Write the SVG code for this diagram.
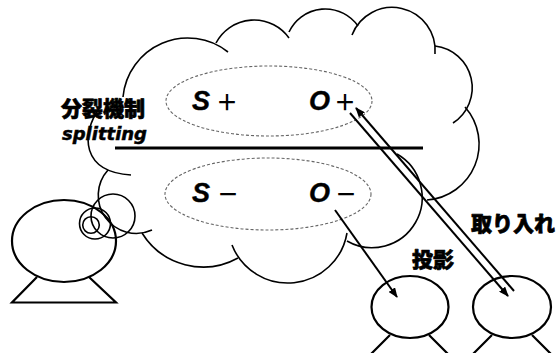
<svg xmlns="http://www.w3.org/2000/svg" width="559" height="353" viewBox="0 0 559 353">
  <style>
    .ln{fill:none;stroke:#000;stroke-width:1.6}
    .fig{fill:none;stroke:#000;stroke-width:2.2}
    .dash{fill:none;stroke:#666;stroke-width:1.1;stroke-dasharray:3 2}
    .jp{font-family:"Noto Sans CJK JP",sans-serif;font-weight:900;fill:#000;stroke:#000;stroke-width:0.7;stroke-linejoin:round}
    .var{font-family:"Liberation Sans",Arial,sans-serif;font-style:italic;font-weight:bold;font-size:27px;stroke:#000;stroke-width:0.4}
    .sym{font-family:"Noto Sans CJK JP",sans-serif;font-weight:bold;font-size:22px}
    .arrow{fill:none;stroke:#000;stroke-width:2}
  </style>
  <defs>
    <marker id="ah" markerUnits="userSpaceOnUse" markerWidth="10" markerHeight="8" refX="9" refY="4" orient="auto">
      <path d="M0,0 L10,4 L0,8 z" fill="#000"/>
    </marker>
  </defs>
  <rect width="559" height="353" fill="#fff"/>

  <!-- thought cloud made of overlapping arcs -->
  <g id="cloud" class="ln">
    <path d="M123,97 A65,65 0 0,1 228,52"/>
    <path d="M216,43 A43,43 0 0,1 289,38"/>
    <path d="M289,32 A40,40 0 0,1 358,26"/>
    <path d="M352,35 A43,43 0 0,1 435,54"/>
    <path d="M435,46 A42,42 0 0,1 453,123"/>
    <path d="M465,107 A56,56 0 0,1 427,200"/>
    <path d="M397,154 A50,50 0 1,1 347,241"/>
    <path d="M347,233 A60,60 0 0,1 232,245"/>
    <path d="M238,258 A72,72 0 0,1 142,233"/>
    <path d="M108,170 A38,38 0 0,0 152,230"/>
    <path d="M100,107 C80,135 82,172 131,175"/>
  </g>

  <!-- bubbles leading from the head to the cloud -->
  <g id="bubbles" class="ln">
    <circle cx="113" cy="216" r="22"/>
    <circle cx="95" cy="223.5" r="15.5"/>
    <circle cx="91" cy="225" r="8.3"/>
  </g>

  <!-- thinking figure -->
  <g id="thinker" class="fig">
    <ellipse cx="64" cy="241" rx="52" ry="41"/>
    <path d="M37,277 L12,302.5 L116,302.5 L89,277"/>
  </g>

  <!-- splitting line and groups -->
  <g id="divider">
    <line x1="115" y1="148" x2="423" y2="148" stroke="#000" stroke-width="3.2"/>
  </g>
  <g id="good-pair">
    <ellipse class="dash" cx="269" cy="101" rx="103" ry="35"/>
    <text y="110"><tspan class="var" x="192">S</tspan><tspan class="sym" x="216">＋</tspan></text>
    <text y="110"><tspan class="var" x="309">O</tspan><tspan class="sym" x="334">＋</tspan></text>
  </g>
  <g id="bad-pair">
    <ellipse class="dash" cx="268" cy="194" rx="103" ry="36"/>
    <text y="202"><tspan class="var" x="192">S</tspan><tspan class="sym" x="217">－</tspan></text>
    <text y="202"><tspan class="var" x="309">O</tspan><tspan class="sym" x="335">－</tspan></text>
  </g>

  <g id="label-splitting">
    <text class="jp" x="61" y="116" font-size="21">分裂機制</text>
    <text x="62" y="140" font-family="'DejaVu Sans',sans-serif" font-weight="bold" font-style="italic" font-size="17" stroke="#000" stroke-width="0.5" textLength="85" lengthAdjust="spacingAndGlyphs">splitting</text>
  </g>

  <!-- two other figures -->
  <g id="person-left" class="fig">
    <ellipse cx="410" cy="307" rx="38.5" ry="31"/>
    <path d="M390,335 L365,360 M429,335 L454,360"/>
  </g>
  <g id="person-right" class="fig">
    <ellipse cx="512" cy="307" rx="39" ry="31"/>
    <path d="M492,335 L467,360 M532,335 L557,360"/>
  </g>

  <!-- connectors -->
  <g id="connectors" class="arrow">
    <line x1="335" y1="210" x2="397" y2="297" marker-end="url(#ah)"/>
    <line x1="350" y1="113" x2="508" y2="296" marker-end="url(#ah)"/>
    <line x1="514" y1="291" x2="356" y2="108" marker-end="url(#ah)"/>
  </g>

  <g id="labels">
    <text class="jp" x="412" y="267" font-size="21">投影</text>
    <text class="jp" x="471" y="231" font-size="21">取り入れ</text>
  </g>
</svg>
